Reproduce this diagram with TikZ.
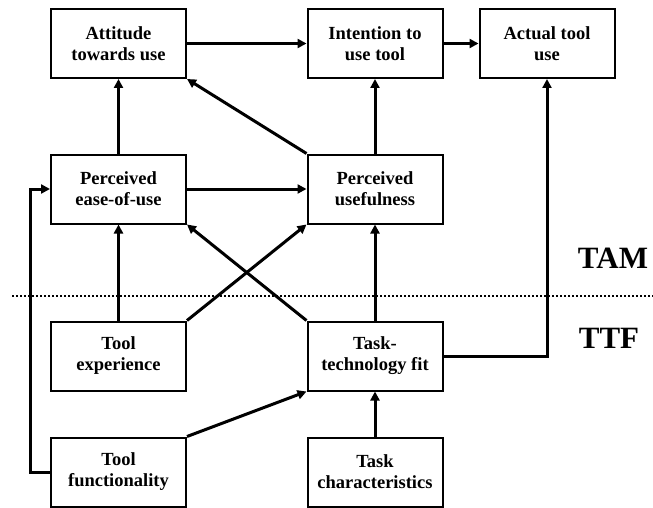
\documentclass[tikz,border=0pt]{standalone}
\usepackage{fontspec}
\setmainfont{Liberation Serif}
\usetikzlibrary{arrows.meta}
\begin{document}
\begin{tikzpicture}[x=1pt,y=-1pt,
  box/.style={draw,line width=2pt,minimum width=135pt,minimum height=69pt,
    align=center,inner sep=0pt,font=\fontsize{18.5}{21}\selectfont\bfseries},
  link/.style={line width=3pt,-{Triangle[length=9pt,width=9pt]}},
  model/.style={font=\fontsize{31}{31}\selectfont\bfseries}]
\useasboundingbox (0,0) rectangle (653,508);
% TAM layer
\node[box] (att) at (118.5,43.5) {Attitude\\towards use};
\node[box] (int) at (375,43.5) {Intention to\\use tool};
\node[box] (act) at (547,43.5) {Actual tool\\use};
\node[box] (peu) at (118.5,189) {Perceived\\ease-of-use};
\node[box] (pu) at (375,189) {Perceived\\usefulness};
% TTF layer
\node[box] (exp) at (118.5,356) {Tool\\experience};
\node[box] (ttf) at (375,356) {Task-\\technology fit};
\node[box] (fun) at (118.5,472) {Tool\\functionality};
\node[box] (tch) at (375,472) {Task\\characteristics};
% layer separator and labels
\coordinate (sepL) at (12,296);
\coordinate (sepR) at (653,296);
\draw[line width=2pt,dash pattern=on 2pt off 2pt] (sepL) -- (sepR);
\node[model] (tam) at (613,258) {TAM};
\node[model] (ttfl) at (609,338) {TTF};
% relations
\draw[link] (att) -- (int);
\draw[link] (int) -- (act);
\draw[link] (peu) -- (att);
\draw[link] (pu) -- (int);
\draw[link] (pu.north west) -- (att.south east);
\draw[link] (peu) -- (pu);
\draw[link] (exp) -- (peu);
\draw[link] (exp.north east) -- (pu.south west);
\draw[link] (ttf.north west) -- (peu.south east);
\draw[link] (ttf) -- (pu);
\draw[link] (ttf.east) -| (act.south);
\draw[link] (tch) -- (ttf);
\draw[link] (fun.north east) -- (ttf.south west);
\draw[link] (fun.west) -- ([xshift=-20pt]fun.west) |- (peu.west);
\end{tikzpicture}
\end{document}
